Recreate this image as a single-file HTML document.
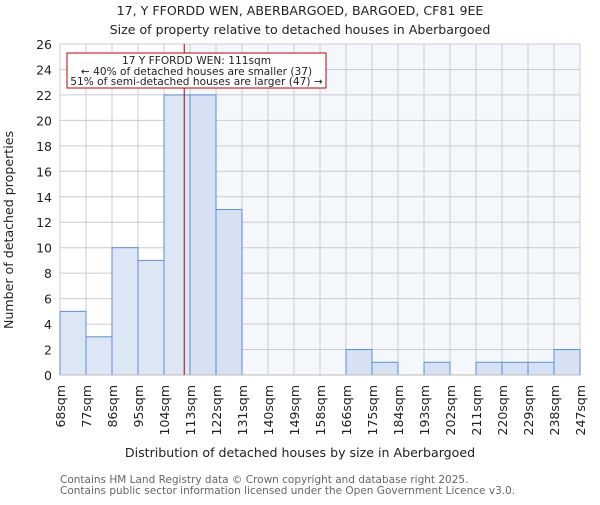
<!DOCTYPE html>
<html><head><meta charset="utf-8"><style>
body{margin:0;background:#fff}
svg text{font-family:"DejaVu Sans","Liberation Sans",sans-serif;fill:#222}
</style></head><body>
<svg width="600" height="500" xmlns="http://www.w3.org/2000/svg">
<g id="root"></g>
</svg>
<script>
const categories=["68sqm","77sqm","86sqm","95sqm","104sqm","113sqm","122sqm","131sqm","140sqm","149sqm","158sqm","166sqm","175sqm","184sqm","193sqm","202sqm","211sqm","220sqm","229sqm","238sqm","247sqm"];
const edges=[68,77,86,95,104,113,122,131,140,149,158,166,175,184,193,202,211,220,229,238,247];
const counts=[5,3,10,9,22,22,13,0,0,0,0,2,1,0,1,0,1,1,1,2];
const yTicks=[0,2,4,6,8,10,12,14,16,18,20,22,24,26];
const marker=[111];
const NS="http://www.w3.org/2000/svg";
const root=document.getElementById('root');
const X0=60,X1=580,Y0=375,Y1=44,YMAX=26;
const nb=counts.length,bw=(X1-X0)/nb;
function xIdx(i){return X0+i*bw;}
function xVal(v){let i=0;while(i<edges.length-2&&v>edges[i+1])i++;return xIdx(i)+(v-edges[i])/(edges[i+1]-edges[i])*bw;}
function y(v){return Y0-(v/YMAX)*(Y0-Y1);}
function mk(t,a,txt){const e=document.createElementNS(NS,t);for(const k in a)e.setAttribute(k,a[k]);if(txt!==undefined)e.textContent=txt;root.appendChild(e);return e;}
const mx=xVal(marker[0]);
let e;
e=mk('rect',{x:mx,y:Y1,width:X1-mx,height:Y0-Y1,fill:'#f4f7fc'});


yTicks.forEach(t=>{
 e=mk('line',{x1:X0,x2:X1,y1:y(t),y2:y(t),stroke:'#cccccc','stroke-width':1});
 
 
 e=mk('text',{x:X0-8,y:y(t)+5,'text-anchor':'end','font-size':12.5},t);
 
 
});
categories.forEach((c,i)=>{
 const xx=xIdx(i);
 e=mk('line',{x1:xx,x2:xx,y1:Y1,y2:Y0,stroke:'#cccccc','stroke-width':1});
 
 
 e=mk('text',{x:0,y:0,'text-anchor':'end','font-size':12.5,transform:`translate(${xx+5},385) rotate(-90)`},c);
 
 
});
counts.forEach((v,i)=>{
 if(v<=0)return;
 const left=xIdx(i)+bw/2<mx;
 e=mk('rect',{x:xIdx(i),y:y(v),width:bw,height:Y0-y(v),fill:left?'#dce6f4':'#d6e2f3',stroke:'#5b8fd6','stroke-width':1});
 
 
});
e=mk('line',{x1:X0,x2:X1,y1:Y0,y2:Y0,stroke:'#bbbbbb'});


e=mk('line',{x1:mx,x2:mx,y1:Y1,y2:Y0,stroke:'#b00000','stroke-width':1});


e=mk('rect',{x:67,y:53,width:259,height:35,fill:'#fff',stroke:'#c00000','stroke-width':1});


[["17 Y FFORDD WEN: 111sqm",64],["← 40% of detached houses are smaller (37)",75],["51% of semi-detached houses are larger (47) →",85]].forEach(a=>{
 e=mk('text',{x:196.5,y:a[1],'text-anchor':'middle','font-size':10.6},a[0]);
 
 
});
e=mk('text',{x:300,y:15,'text-anchor':'middle','font-size':12.6},"17, Y FFORDD WEN, ABERBARGOED, BARGOED, CF81 9EE");


e=mk('text',{x:300,y:34,'text-anchor':'middle','font-size':12.6},"Size of property relative to detached houses in Aberbargoed");


e=mk('text',{x:300,y:457,'text-anchor':'middle','font-size':12.6},"Distribution of detached houses by size in Aberbargoed");


e=mk('text',{x:0,y:0,'text-anchor':'middle','font-size':12.6,transform:'translate(13,230) rotate(-90)'},"Number of detached properties");


e=mk('text',{x:60,y:483,'font-size':10.5,style:'fill:#666'},"Contains HM Land Registry data © Crown copyright and database right 2025.");


e=mk('text',{x:60,y:494,'font-size':10.5,style:'fill:#666'},"Contains public sector information licensed under the Open Government Licence v3.0.");


</script>
</body></html>
